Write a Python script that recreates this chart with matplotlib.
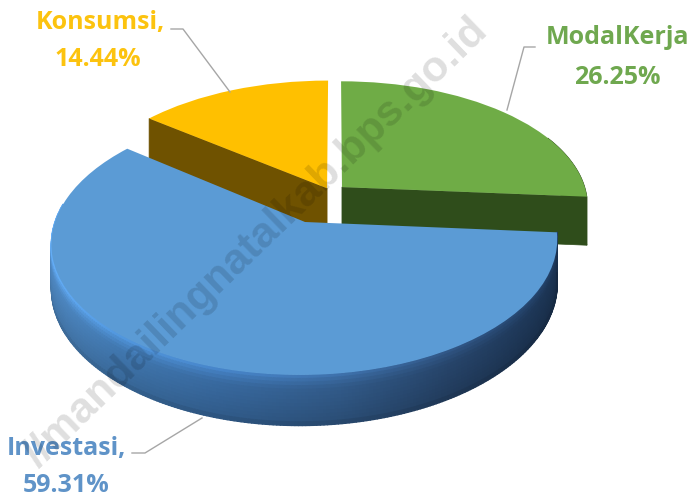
import numpy as np
import matplotlib
matplotlib.use("Agg")
import matplotlib.pyplot as plt
from matplotlib.transforms import Transform
from matplotlib.collections import PolyCollection

categories = ["ModalKerja", "Investasi", "Konsumsi"]
shares = [26.25, 59.31, 14.44]
top_colors = ["#6fac46", "#5b9bd5", "#ffc000"]
wall_colors = ["#2f4d1b", "#2c5078", "#6f5200"]
text_colors = ["#6fa84f", "#5f93c8", "#fcc30f"]

# projection of the tilted disk onto the pixel grid
A, B, K = 250.0, 130.0, 0.15
CX, CY, VX = 305.0, 222.0, 335.0
DEPTH = 43.0
offsets = {"ModalKerja": (0.149, 0.28), "Investasi": (0.0, 0.0), "Konsumsi": (0.087, 0.27)}
radii = {"ModalKerja": 1.012, "Investasi": 1.0, "Konsumsi": 1.03}
wall_depth = {"ModalKerja": 50.0, "Konsumsi": 46.0}


def project(u, v, drop=0.0):
    u, v = np.asarray(u, float), np.asarray(v, float)
    s = 1.0 / (1.0 + K * v)
    return VX + (CX - VX + A * u) * s, CY - B * v * s + drop * s


class Tilt(Transform):
    input_dims = output_dims = 2
    has_inverse = False

    def transform_non_affine(self, values):
        x, y = project(values[:, 0], values[:, 1])
        return np.column_stack([x, y])


fig = plt.figure(figsize=(6.93, 5.0), dpi=100, facecolor="white")
ax = fig.add_axes([0, 0, 1, 1])
wedges, _ = ax.pie(shares, startangle=90, counterclock=False, colors=top_colors, frame=False)
ax.set_aspect("auto")
ax.set_xlim(0, 693)
ax.set_ylim(500, 0)
ax.axis("off")
tilt = Tilt()


def rim(name, t):
    ox, oy = offsets[name]
    r = radii[name]
    return ox + r * np.cos(np.radians(t)), oy + r * np.sin(np.radians(t))


def solid(pts, color, z):
    ax.fill(pts[0], pts[1], color=color, lw=0.5, zorder=z)


def wall(name, t, color, z):
    ox, oy = offsets[name]
    u, v = rim(name, t)
    x0, y0 = project([ox, u], [oy, v])
    x1, y1 = project([u, ox], [v, oy], wall_depth[name])
    solid((np.r_[x0, x1], np.r_[y0, y1]), color, z)


order = {"Konsumsi": 2, "ModalKerja": 4, "Investasi": 6}
for name, w in zip(categories, wedges):
    w.set_center(offsets[name])
    w.set_radius(radii[name])
    w.set_transform(tilt + ax.transData)
    w.set_edgecolor("none")
    w.set_zorder(order[name] + 0.5)

mod, inv, kon = wedges

# cut faces
wall("Konsumsi", kon.theta2, wall_colors[2], 2)
wall("ModalKerja", mod.theta1, wall_colors[0], 4)

# outer side of ModalKerja
t = np.linspace(mod.theta1, mod.theta1 + 30, 30)
u, v = rim("ModalKerja", t)
x0, y0 = project(u, v)
x1, y1 = project(u, v, wall_depth["ModalKerja"])
solid((np.r_[x0, x1[::-1]], np.r_[y0, y1[::-1]]), wall_colors[0], 4)

# outer side of Investasi with a soft gradient
ts = np.linspace(-188, inv.theta2, 260)
fracs = np.linspace(0, 1, 15)
f_shade = np.interp(fracs, [0.0, 0.08, 0.25, 0.6, 0.88, 1.0], [1.22, 1.12, 0.97, 0.9, 0.84, 0.68])
stops_x = np.array([50, 120, 220, 340, 450, 560])
stops_c = np.array([[0x52, 0x8e, 0xca], [0x43, 0x7c, 0xb6], [0x3a, 0x6d, 0xa5],
                    [0x33, 0x5d, 0x8d], [0x28, 0x47, 0x6e], [0x1c, 0x35, 0x55]], float)
polys, cols = [], []
ur, vr = rim("Investasi", ts)
for i in range(len(ts) - 1):
    xm = project(ur[i:i + 2], vr[i:i + 2])[0].mean()
    base = np.array([np.interp(xm, stops_x, stops_c[:, c]) for c in range(3)])
    for j in range(len(fracs) - 1):
        xa, ya = project(ur[i:i + 2], vr[i:i + 2], fracs[j] * DEPTH)
        xb, yb = project(ur[i:i + 2], vr[i:i + 2], fracs[j + 1] * DEPTH)
        polys.append(np.c_[np.r_[xa, xb[::-1]], np.r_[ya, yb[::-1]]])
        cols.append(np.clip(base * f_shade[j] / 255.0, 0, 1))
pc = PolyCollection(polys, facecolors=cols, edgecolors=cols, linewidths=1.0, zorder=6)
ax.add_collection(pc)

# leader lines
leaders = [([171, 183, 230], [29, 29, 92]),
           ([535, 524, 507], [47, 47, 110]),
           ([132, 145, 202], [453, 453, 418])]
for lx, ly in leaders:
    ax.plot(lx, ly, color="#a6a6a6", lw=1.0, zorder=7)

# labels
fp = dict(family="Open Sans", fontweight="bold", fontsize=18.0, ha="center", va="center", zorder=8)
label_pos = [(617, 37, 617, 77), (66, 449, 66, 485), (100, 22, 98, 59)]
label_head = ["ModalKerja", "Investasi,", "Konsumsi,"]
for head, val, col, (x1, y1, x2, y2) in zip(label_head, shares, text_colors, label_pos):
    ax.text(x1, y1, head, color=col, **fp)
    ax.text(x2, y2, f"{val:.2f}%", color=col, **fp)

# watermark
ax.text(256, 243, "//mandailingnatalkab.bps.go.id", rotation=44, rotation_mode="anchor",
        ha="center", va="center", fontsize=31, fontweight="bold", family="Liberation Sans",
        color="black", alpha=0.13, zorder=10)

fig.savefig("out.png", dpi=100, facecolor="white")
